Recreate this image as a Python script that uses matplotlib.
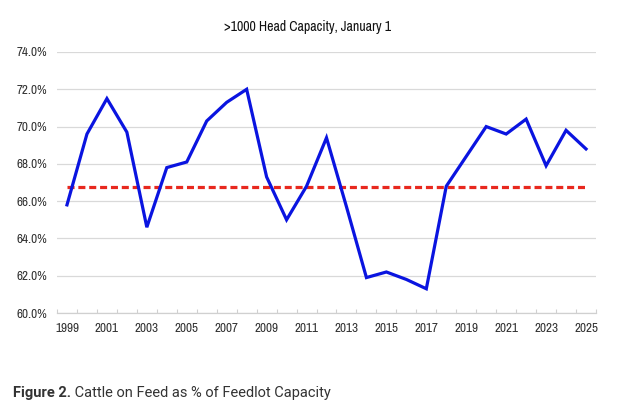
import matplotlib.pyplot as plt
import numpy as np

# Valeurs (%)
years = list(range(1999, 2026))
pct_capacity = [65.8, 69.6, 71.5, 69.7, 64.6, 67.8, 68.1, 70.3, 71.3, 72.0,
                67.3, 65.0, 66.8, 69.4, 65.7, 61.9, 62.2, 61.8, 61.3, 66.8,
                68.4, 70.0, 69.6, 70.4, 67.9, 69.8, 68.8]
avg_level = 66.75
yticks = [60, 62, 64, 66, 68, 70, 72, 74]
xlabels = [str(y) if (y - 1999) % 2 == 0 else '' for y in years]

title = '>1000 Head Capacity, January 1'
caption_bold = 'Figure 2.'
caption_rest = ' Cattle on Feed as % of Feedlot Capacity'

# police etroite (proche du rendu de l'original), sinon Lato
plt.rcParams['font.family'] = ['Archivo Narrow', 'Lato', 'DejaVu Sans']

fig = plt.figure(figsize=(6.33, 4.16), dpi=100)
ax = fig.add_axes([57 / 633, 1 - 313 / 416, 539 / 633, 261 / 416])

x = np.arange(len(years))
ax.plot(x, [avg_level] * len(years), color='#e8281e', lw=2.3,
        dashes=(2.2, 1.2), zorder=2)
ax.plot(x, pct_capacity, color='#0a14e0', lw=2.3, zorder=3,
        solid_joinstyle='miter')

ax.set_xlim(-0.5, len(years) - 0.5)
ax.set_ylim(60, 74)
ax.set_yticks(yticks)
ax.set_yticklabels(['%.1f%%' % v for v in yticks], fontsize=9.5, color='#333333')
ax.grid(axis='y', color='#d9d9d9', lw=0.9)
ax.set_axisbelow(True)

ax.set_xticks(x)
ax.set_xticklabels(xlabels, fontsize=9.5, color='#333333')
ax.tick_params(axis='x', length=0, pad=7)
ax.set_xticks(np.arange(-0.5, len(years)), minor=True)
ax.tick_params(axis='x', which='minor', direction='in', length=3,
               color='#d0d0d0', width=0.8)
ax.tick_params(axis='y', length=0, pad=7)

for s in ['top', 'right', 'left']:
    ax.spines[s].set_visible(False)
ax.spines['bottom'].set_color('#d0d0d0')
ax.spines['bottom'].set_linewidth(0.9)

fig.text(308 / 633, 1 - 27 / 416, title, ha='center', va='center',
         fontsize=10, color='#111111')

t = fig.text(13 / 633, 1 - 393 / 416, caption_bold, ha='left', va='center',
             fontsize=10.5, fontweight='bold', color='#333333',
             family=['Roboto', 'DejaVu Sans'])
fig.canvas.draw()
bb = t.get_window_extent()
fig.text(bb.x1 / fig.bbox.width, 1 - 393 / 416, caption_rest, ha='left',
         va='center', fontsize=10.5, color='#333333',
         family=['Roboto', 'DejaVu Sans'])

fig.savefig('out.png', dpi=100)
